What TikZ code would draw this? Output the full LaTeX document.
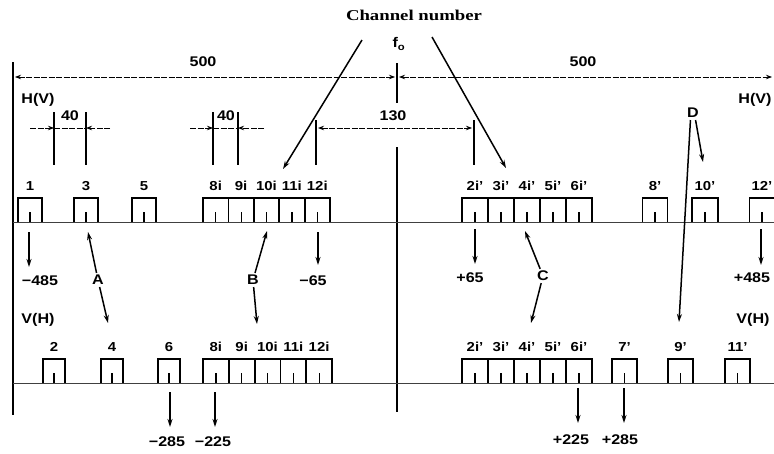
\documentclass[tikz,border=0pt]{standalone}
\usepackage{fontspec}
\setmainfont{Liberation Sans}[FakeStretch=1.15]
\newfontfamily\titlefont{Liberation Serif}[FakeStretch=1.25]
\usetikzlibrary{arrows.meta}
\newcommand\mypulse[5]{%
  \coordinate (#1) at (#2,#3);
  \draw[pulseline] ([xshift=-#4pt]#1) -- ++(0,-24) -- ++(2*#4,0) -- ++(0,24);
  \draw[innertick] (#1) -- ++(0,-10);
  \node[lbl] (#1l) at (#2,#3-36) {#5};
}
\begin{document}
\begin{tikzpicture}[x=1pt,y=-1pt,
  lbl/.style={font=\bfseries\fontsize{13}{13}\selectfont, inner sep=0.5pt},
  big/.style={font=\bfseries\fontsize{14}{14}\selectfont, inner sep=0.5pt},
  dim/.style={dash pattern=on 6pt off 1.5pt, line width=0.8pt},
  tip/.style={-{Stealth[length=6pt,width=4.5pt]}},
  arr/.style={-{Stealth[length=8pt,width=5pt]}, line width=1.5pt},
  baseline/.style={line width=0.9pt, black!75},
  pulseline/.style={line width=1.8pt},
  innertick/.style={line width=1.2pt},
  tick/.style={line width=1.6pt}
]
\useasboundingbox (0,0) rectangle (774,453);

% title and f0
\node[font=\titlefont\bfseries\fontsize{15}{15}\selectfont, inner sep=0pt] (title) at (414,15) {Channel number};
\node[lbl, font=\bfseries\fontsize{14}{14}\selectfont] (f0) at (399,44) {f\textsubscript{o}};

% axes
\coordinate (axT) at (13,62); \coordinate (axB) at (13,415);
\draw[line width=2.6pt] (axT) -- (axB);
\coordinate (fT) at (397,63); \coordinate (fM) at (397,103);
\coordinate (fC) at (397,147); \coordinate (fB) at (397,412);
\draw[line width=1.8pt] (fT) -- (fM);
\draw[line width=1.8pt] (fC) -- (fB);

% baselines
\coordinate (bl1) at (13,222); \coordinate (br1) at (774,222);
\coordinate (bl2) at (13,383); \coordinate (br2) at (774,383);
\draw[baseline] (bl1) -- (br1);
\draw[baseline] (bl2) -- (br2);

% 500 dimensions
\coordinate (dL1) at (15,77); \coordinate (dL2) at (395,77);
\coordinate (dR1) at (399,77); \coordinate (dR2) at (772,77);
\draw[dim, {Stealth[length=6pt,width=4.5pt]}-{Stealth[length=6pt,width=4.5pt]}] (dL1) -- (dL2);
\draw[dim, {Stealth[length=6pt,width=4.5pt]}-{Stealth[length=6pt,width=4.5pt]}] (dR1) -- (dR2);
\node[big] (n500a) at (203,62) {500};
\node[big] (n500b) at (583,62) {500};

% H(V) / V(H) labels
\node[big] (hvL) at (38,100) {H(V)};
\node[big] (hvR) at (755,100) {H(V)};
\node[big] (vhL) at (38,320) {V(H)};
\node[big] (vhR) at (753,320) {V(H)};

% 40 dimension (left)
\coordinate (ta1) at (54,112); \coordinate (ta1b) at (54,165);
\coordinate (ta2) at (86,112); \coordinate (ta2b) at (86,165);
\draw[tick] (ta1) -- (ta1b); \draw[tick] (ta2) -- (ta2b);
\coordinate (da0) at (30,128); \coordinate (da1) at (54,128);
\coordinate (da2) at (86,128); \coordinate (da3) at (110,128);
\draw[dim, tip] (da0) -- (da1);
\draw[dim] (da1) -- (da2);
\draw[dim, tip] (da3) -- (da2);
\node[big] (n40a) at (70,116) {40};

% 40 dimension (middle)
\coordinate (tb1) at (213,112); \coordinate (tb1b) at (213,165);
\coordinate (tb2) at (238,112); \coordinate (tb2b) at (238,165);
\draw[tick] (tb1) -- (tb1b); \draw[tick] (tb2) -- (tb2b);
\coordinate (db0) at (190,128); \coordinate (db1) at (213,128);
\coordinate (db2) at (238,128); \coordinate (db3) at (264,128);
\draw[dim, tip] (db0) -- (db1);
\draw[dim] (db1) -- (db2);
\draw[dim, tip] (db3) -- (db2);
\node[big] (n40b) at (226,116) {40};

% 130 dimension
\coordinate (tc1) at (316,120); \coordinate (tc1b) at (316,165);
\coordinate (tc2) at (474,120); \coordinate (tc2b) at (474,165);
\draw[tick] (tc1) -- (tc1b); \draw[tick] (tc2) -- (tc2b);
\coordinate (dc1) at (318,128); \coordinate (dc2) at (472,128);
\draw[dim, {Stealth[length=6pt,width=4.5pt]}-{Stealth[length=6pt,width=4.5pt]}] (dc1) -- (dc2);
\node[big] (n130) at (393,116) {130};

% top row pulses
\mypulse{p1}{30}{222}{12}{1}
\mypulse{p3}{86}{222}{12}{3}
\mypulse{p5}{144}{222}{12}{5}
\mypulse{p8i}{215.7}{222}{12.7}{8i}
\mypulse{p9i}{241.1}{222}{12.7}{9i}
\mypulse{p10i}{266.5}{222}{12.7}{10i}
\mypulse{p11i}{291.9}{222}{12.7}{11i}
\mypulse{p12i}{317.3}{222}{12.7}{12i}
\mypulse{q2}{475}{222}{13}{2i'}
\mypulse{q3}{501}{222}{13}{3i'}
\mypulse{q4}{527}{222}{13}{4i'}
\mypulse{q5}{553}{222}{13}{5i'}
\mypulse{q6}{579}{222}{13}{6i'}
\mypulse{q8}{655}{222}{12.5}{8'}
\mypulse{q10}{705}{222}{13}{10'}
\mypulse{q12}{762}{222}{12.5}{12'}

% bottom row pulses
\mypulse{b2}{54}{383}{11}{2}
\mypulse{b4}{112}{383}{11}{4}
\mypulse{b6}{169}{383}{11}{6}
\mypulse{b8i}{215.9}{383}{12.9}{8i}
\mypulse{b9i}{241.7}{383}{12.9}{9i}
\mypulse{b10i}{267.5}{383}{12.9}{10i}
\mypulse{b11i}{293.3}{383}{12.9}{11i}
\mypulse{b12i}{319.1}{383}{12.9}{12i}
\mypulse{r2}{475}{383}{13}{2i'}
\mypulse{r3}{501}{383}{13}{3i'}
\mypulse{r4}{527}{383}{13}{4i'}
\mypulse{r5}{553}{383}{13}{5i'}
\mypulse{r6}{579}{383}{13}{6i'}
\mypulse{r7}{624.5}{383}{12.5}{7'}
\mypulse{r9}{680.5}{383}{12.5}{9'}
\mypulse{r11}{737.5}{383}{12.5}{11'}

% channel number arrows
\coordinate (cn1s) at (362,40); \coordinate (cn1e) at (283,169);
\coordinate (cn2s) at (432,37); \coordinate (cn2e) at (506,168);
\draw[arr] (cn1s) -- (cn1e);
\draw[arr] (cn2s) -- (cn2e);

% frequency value arrows and labels
\node[big] (m485) at (40,281) {−485};
\node[big] (m65) at (313,281) {−65};
\node[big] (p65) at (470,278) {+65};
\node[big] (p485) at (752,278) {+485};
\node[big] (m285) at (167,442) {−285};
\node[big] (m225) at (213,442) {−225};
\node[big] (p225) at (571,440) {+225};
\node[big] (p285) at (620,440) {+285};
\coordinate (v1s) at (29,232);  \coordinate (v1e) at (29,267);
\coordinate (v2s) at (318,232); \coordinate (v2e) at (318,265);
\coordinate (v3s) at (475,229); \coordinate (v3e) at (475,264);
\coordinate (v4s) at (761,229); \coordinate (v4e) at (761,265);
\coordinate (v5s) at (170,392); \coordinate (v5e) at (170,427);
\coordinate (v6s) at (215,392); \coordinate (v6e) at (215,427);
\coordinate (v7s) at (578,388); \coordinate (v7e) at (578,423);
\coordinate (v8s) at (624,388); \coordinate (v8e) at (624,423);
\draw[arr] (v1s) -- (v1e);
\draw[arr] (v2s) -- (v2e);
\draw[arr] (v3s) -- (v3e);
\draw[arr] (v4s) -- (v4e);
\draw[arr] (v5s) -- (v5e);
\draw[arr] (v6s) -- (v6e);
\draw[arr] (v7s) -- (v7e);
\draw[arr] (v8s) -- (v8e);

% A B C D
\node[big, inner sep=2pt] (A) at (98,280) {A};
\node[big, inner sep=2pt] (B) at (253,280) {B};
\node[big, inner sep=2pt] (C) at (543,276) {C};
\node[big, inner sep=2pt] (D) at (693,113) {D};
\coordinate (tA1) at (88,232);  \coordinate (tA2) at (108,323);
\coordinate (tB1) at (267,231); \coordinate (tB2) at (257,324);
\coordinate (tC1) at (525,231); \coordinate (tC2) at (531,323);
\coordinate (tD1) at (703,162); \coordinate (tD2) at (679,322);
\draw[arr] (A) -- (tA1);
\draw[arr] (A) -- (tA2);
\draw[arr] (B) -- (tB1);
\draw[arr] (B) -- (tB2);
\draw[arr] (C) -- (tC1);
\draw[arr] (C) -- (tC2);
\draw[arr] (D.-70) -- (tD1);
\draw[arr] (D.-110) -- (tD2);
\end{tikzpicture}
\end{document}
